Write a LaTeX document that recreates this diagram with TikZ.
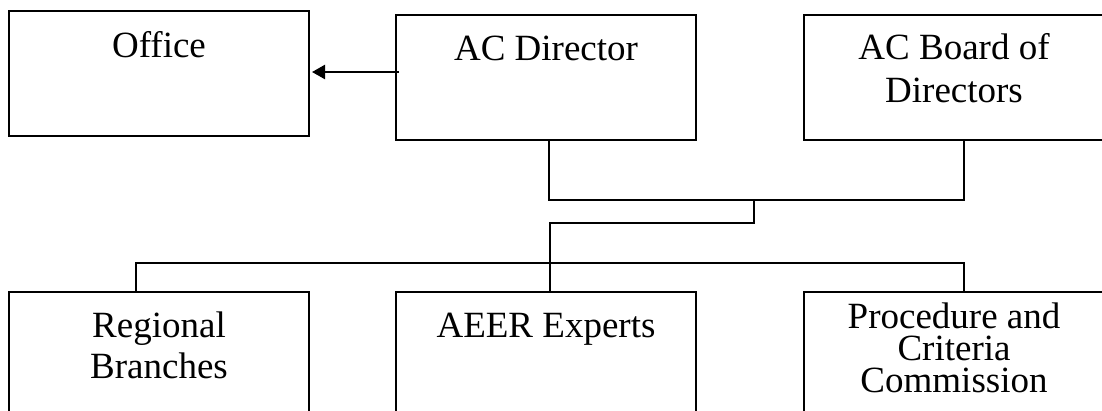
\documentclass[tikz,border=0pt]{standalone}
\usepackage{fontspec}
\setmainfont{Liberation Serif}
\usetikzlibrary{arrows.meta}
\newcommand{\unittext}[3]{\parbox[t][125pt][t]{300pt}{\centering\fontsize{37}{#2}\selectfont\rule{0pt}{#1}#3}}
\begin{document}
\begin{tikzpicture}[x=1pt,y=-1pt]
\tikzstyle{unit}=[draw, line width=1.9pt, inner sep=0pt, outer sep=0pt]
\tikzstyle{link}=[line width=1.9pt]
\clip (0,0) rectangle (1102,410);
\node [unit] (office) at (159,73.5) {\unittext{46pt}{43pt}{Office}};
\node [unit] (dir) at (546,77.5) {\unittext{45pt}{43pt}{AC Director}};
\node [unit] (board) at (954,77.5) {\unittext{44pt}{43pt}{AC Board of\\Directors}};
\node [unit] (reg) at (159,354.5) {\unittext{45pt}{41pt}{Regional\\Branches}};
\node [unit] (aeer) at (546,354.5) {\unittext{45pt}{43pt}{AEER Experts}};
\node [unit] (proc) at (954,354.5) {\unittext{36pt}{32pt}{Procedure and\\Criteria\\Commission}};
\coordinate (j1) at (754,200);
\coordinate (j2) at (754,223);
\coordinate (bus) at (546,263);
\draw [link, line width=2.4pt, -{Triangle[length=13pt,width=14pt]}] ([xshift=3pt,yshift=5.5pt]dir.west) -- ([xshift=3pt,yshift=1.5pt]office.east);
\draw [link] ([xshift=3pt]dir.south) |- (j1) -| ([xshift=10pt]board.south);
\draw [link] (j1) -- (j2) -| ([xshift=4pt]aeer.north);
\draw [link] ([xshift=-23pt]reg.north) |- (bus) -| ([xshift=10pt]proc.north);
\end{tikzpicture}
\end{document}
